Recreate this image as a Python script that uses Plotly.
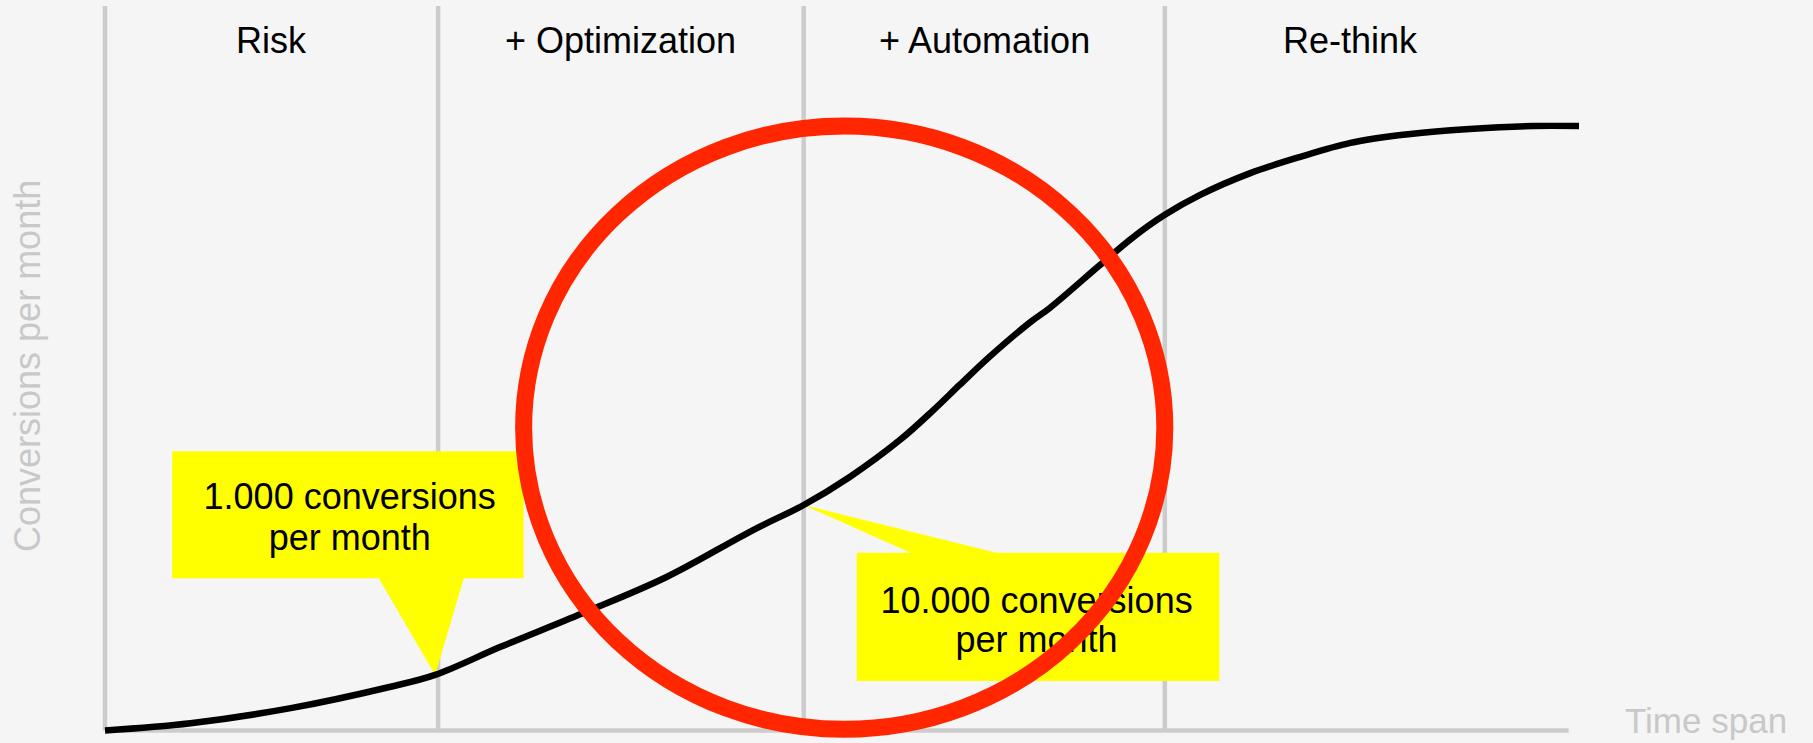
import plotly.graph_objects as go

# conceptual S-curve: time span (0-100) vs conversions per month (0-100)
time_span = [0, 5.8, 12.6, 19.3, 22.4, 26.8, 32.4, 38.1, 44.0, 47.4, 50.5, 53.9,
             56.2, 58.0, 60.0, 62.8, 64.1, 67.5, 69.7, 71.9, 74.3, 77.7, 81.1,
             84.5, 87.9, 91.3, 94.6, 96.9, 100]
conversions = [0, 1.2, 3.7, 7.2, 9.2, 13.8, 19.4, 25.4, 33.2, 37.3, 41.9, 48.0,
               53.0, 57.2, 61.8, 67.6, 69.9, 77.0, 81.5, 85.3, 88.6, 92.2, 94.9,
               97.2, 98.5, 99.3, 99.8, 100, 100]

phase_names = ["Risk", "+ Optimization", "+ Automation", "Re-think"]
phase_starts = [0, 22.6, 47.4, 71.9]
phase_label_x = [11.3, 35.0, 59.7, 84.5]

# callouts: text lines, box extent and the curve point they point at
callout_lines = [["1.000 conversions", "per month"], ["10.000 conversions", "per month"]]
callout_text_x = [16.6, 63.2]
callout_text_y = [[38.1, 31.3], [21.0, 14.4]]
callout_box_x = [[4.55, 28.4], [51.0, 75.6]]
callout_box_y = [[25.2, 46.2], [8.2, 29.4]]
callout_base_x = [[18.45, 24.4], [55.1, 61.3]]
callout_tip = [(22.4, 9.2), (47.4, 37.3)]

# focus ellipse
focus_x = [28.4, 71.9]
focus_y = [0.2, 100]

# pixel anchors of the drawing
X0_PX, X_SCALE = 105, 14.74
Y0_PX, Y_SCALE = 730.5, 6.045
W, H = 1813, 743

BG = "#f5f5f5"
GRID = "#cccccc"
YELLOW = "#ffff00"
RED = "#ff2600"
FONT = "Liberation Sans, Arial, Helvetica, sans-serif"

fig = go.Figure()

shapes = []
# phase dividers and baseline
top_y = (Y0_PX - 6) / Y_SCALE
for xs in phase_starts:
    shapes.append(dict(type="line", x0=xs, x1=xs, y0=0, y1=top_y,
                       line=dict(color=GRID, width=4.5), layer="below"))
shapes.append(dict(type="line", x0=0, x1=99.3, y0=0, y1=0,
                   line=dict(color=GRID, width=4.5), layer="below"))

# yellow callout boxes with pointers
for bx, by, base, tip in zip(callout_box_x, callout_box_y, callout_base_x, callout_tip):
    shapes.append(dict(type="rect", x0=bx[0], x1=bx[1], y0=by[0], y1=by[1],
                       fillcolor=YELLOW, line=dict(width=0), layer="below"))
    if tip[1] < by[0]:
        base_y = by[0] + 0.5
    else:
        base_y = by[1] - 0.5
    path = f"M {base[0]} {base_y} L {base[1]} {base_y} L {tip[0]} {tip[1]} Z"
    shapes.append(dict(type="path", path=path, fillcolor=YELLOW,
                       line=dict(width=0), layer="below"))

# red focus circle on top
shapes.append(dict(type="circle", x0=focus_x[0], x1=focus_x[1],
                   y0=focus_y[0], y1=focus_y[1],
                   line=dict(color=RED, width=17), layer="above"))

fig.add_trace(go.Scatter(x=time_span, y=conversions, mode="lines",
                         line=dict(color="black", width=6.5, shape="spline", smoothing=1.0),
                         hoverinfo="skip"))

# callout texts as a trace so the red circle can cover them
tx, ty, tt = [], [], []
for lines, x, ys in zip(callout_lines, callout_text_x, callout_text_y):
    for line, y in zip(lines, ys):
        tx.append(x)
        ty.append(y)
        tt.append(line)
fig.add_trace(go.Scatter(x=tx, y=ty, text=tt, mode="text", textposition="middle center",
                         textfont=dict(family=FONT, size=36, color="black"),
                         cliponaxis=False, hoverinfo="skip"))

annotations = []
label_y = (Y0_PX - 40) / Y_SCALE
for name, x in zip(phase_names, phase_label_x):
    annotations.append(dict(x=x, y=label_y, text=name, showarrow=False,
                            xanchor="center", yanchor="middle",
                            font=dict(family=FONT, size=36, color="black")))
annotations.append(dict(x=(27 - X0_PX) / X_SCALE, y=(Y0_PX - 366) / Y_SCALE,
                        text="Conversions per month", textangle=-90, showarrow=False,
                        xanchor="center", yanchor="middle",
                        font=dict(family=FONT, size=36, color="#c8c8c8")))
annotations.append(dict(x=(1706 - X0_PX) / X_SCALE, y=(Y0_PX - 720) / Y_SCALE,
                        text="Time span", showarrow=False,
                        xanchor="center", yanchor="middle",
                        font=dict(family=FONT, size=35, color="#c8c8c8")))

fig.update_layout(
    width=W, height=H,
    margin=dict(l=0, r=0, t=0, b=0, pad=0),
    paper_bgcolor=BG, plot_bgcolor=BG,
    showlegend=False,
    shapes=shapes,
    annotations=annotations,
    xaxis=dict(visible=False, range=[-X0_PX / X_SCALE, (W - X0_PX) / X_SCALE]),
    yaxis=dict(visible=False, range=[(Y0_PX - H) / Y_SCALE, Y0_PX / Y_SCALE]),
)

fig.write_html("out.html", config={"displayModeBar": False},
               post_script="document.body.style.margin='0';")
